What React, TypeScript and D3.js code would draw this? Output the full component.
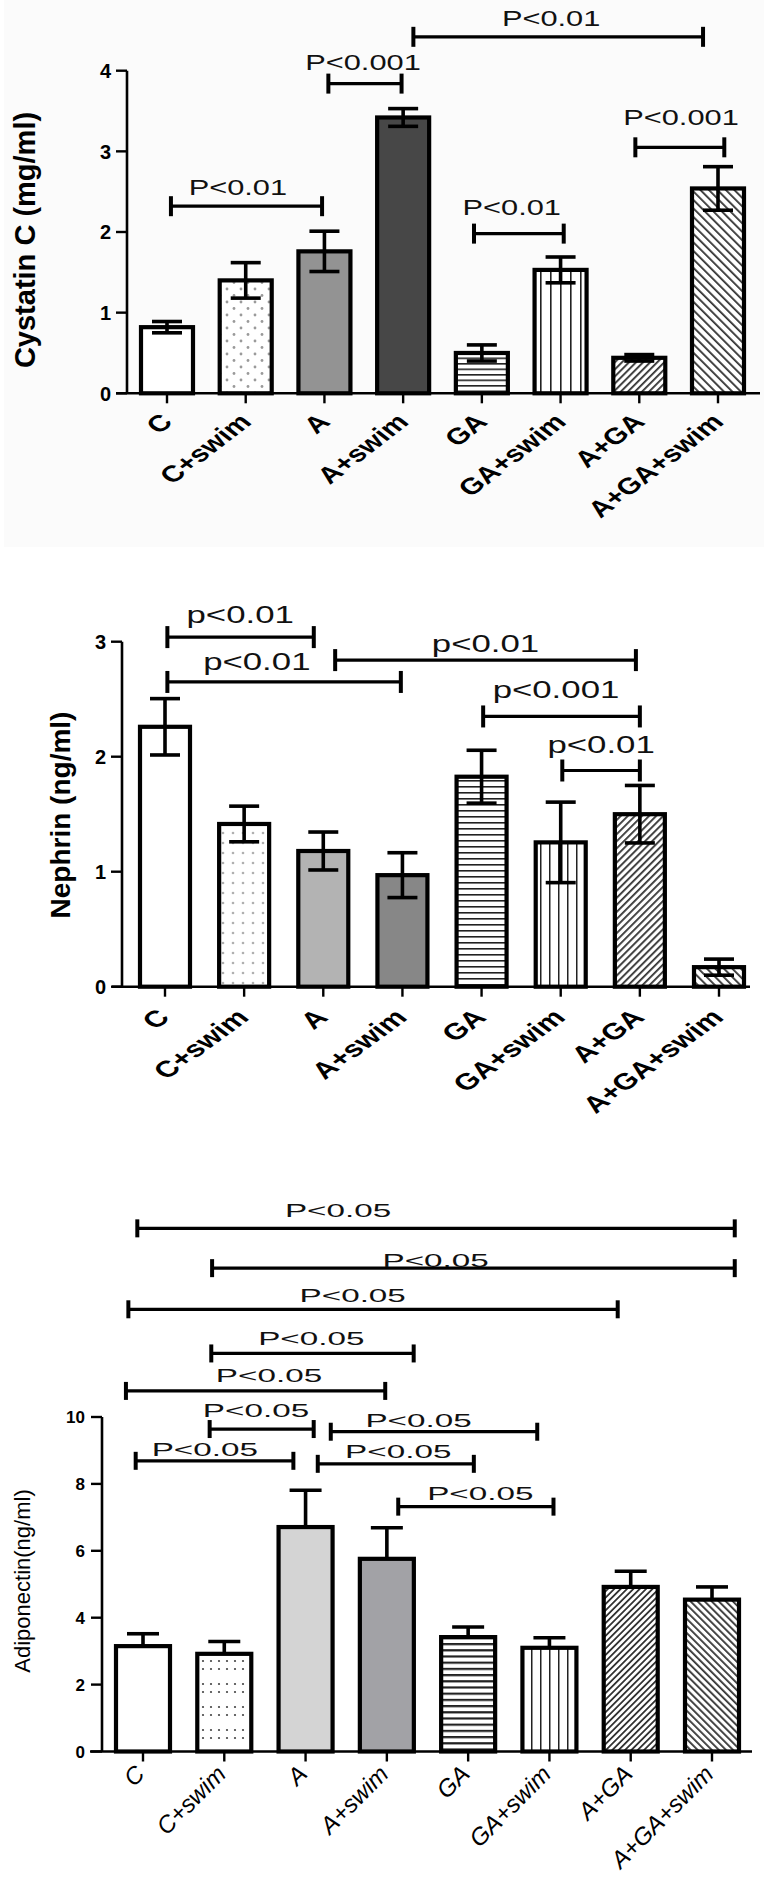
import React from "react";
import * as d3 from "d3";

const categories = ["C", "C+swim", "A", "A+swim", "GA", "GA+swim", "A+GA", "A+GA+swim"];

// Panel 1: Cystatin C (mg/ml)
const cystatinMeans = [0.82, 1.4, 1.76, 3.42, 0.5, 1.53, 0.44, 2.54];
const cystatinErrors = [0.07, 0.22, 0.25, 0.11, 0.1, 0.16, 0.04, 0.27];
const cystatinTicks = [0, 1, 2, 3, 4];
const cystatinBrackets = [
  { from: 0.05, to: 1.97, y: 2.32, lx: 0.9, ly: 2.46, label: "P<0.01" },
  { from: 2.05, to: 2.98, y: 3.84, lx: 2.49, ly: 4.01, label: "P<0.001" },
  { from: 3.13, to: 6.81, y: 4.42, lx: 4.88, ly: 4.55, label: "P<0.01" },
  { from: 3.9, to: 5.04, y: 1.98, lx: 4.38, ly: 2.21, label: "P<0.01" },
  { from: 5.95, to: 7.08, y: 3.05, lx: 6.53, ly: 3.33, label: "P<0.001" },
];

// Panel 2: Nephrin (ng/ml)
const nephrinMeans = [2.26, 1.415, 1.18, 0.97, 1.826, 1.255, 1.5, 0.17];
const nephrinErrors = [0.245, 0.155, 0.165, 0.195, 0.23, 0.35, 0.25, 0.07];
const nephrinTicks = [0, 1, 2, 3];
const nephrinBrackets = [
  { from: 0.03, to: 1.88, y: 3.04, lx: 0.95, ly: 3.16, label: "p<0.01" },
  { from: 0.03, to: 2.98, y: 2.65, lx: 1.16, ly: 2.75, label: "p<0.01" },
  { from: 2.15, to: 5.95, y: 2.84, lx: 4.05, ly: 2.91, label: "p<0.01" },
  { from: 4.02, to: 6.0, y: 2.35, lx: 4.94, ly: 2.51, label: "p<0.001" },
  { from: 5.02, to: 6.0, y: 1.88, lx: 5.51, ly: 2.03, label: "p<0.01" },
];

// Panel 3: Adiponectin (ng/ml)
const adipoMeans = [3.15, 2.92, 6.71, 5.76, 3.42, 3.1, 4.92, 4.54];
const adipoErrors = [0.37, 0.37, 1.1, 0.93, 0.3, 0.3, 0.47, 0.38];
const adipoTicks = [0, 2, 4, 6, 8, 10];
const adipoBrackets = [
  { from: -0.07, to: 7.28, y: 15.64, lx: 2.4, ly: 15.99, label: "P<0.05" },
  { from: 0.85, to: 7.28, y: 14.45, lx: 3.6, ly: 14.49, label: "P<0.05" },
  { from: -0.18, to: 5.84, y: 13.22, lx: 2.58, ly: 13.45, label: "P<0.05" },
  { from: 0.84, to: 3.33, y: 11.9, lx: 2.07, ly: 12.15, label: "P<0.05" },
  { from: -0.21, to: 2.98, y: 10.78, lx: 1.55, ly: 11.06, label: "P<0.05" },
  { from: 0.82, to: 2.1, y: 9.64, lx: 1.39, ly: 10.01, label: "P<0.05" },
  { from: 2.31, to: 4.85, y: 9.56, lx: 3.39, ly: 9.71, label: "P<0.05" },
  { from: -0.09, to: 1.85, y: 8.69, lx: 0.76, ly: 8.83, label: "P<0.05" },
  { from: 2.15, to: 4.07, y: 8.6, lx: 3.14, ly: 8.77, label: "P<0.05" },
  { from: 3.14, to: 5.05, y: 7.32, lx: 4.15, ly: 7.52, label: "P<0.05" },
];

const FONT = "'Liberation Sans', Arial, Helvetica, sans-serif";

type Bracket = { from: number; to: number; y: number; lx: number; ly: number; label: string };

type PanelProps = {
  means: number[];
  errors: number[];
  ticks: number[];
  domain: [number, number];
  yZero: number;
  yTop: number;
  c0: number;
  c7: number;
  bw: number;
  axisLeft: number;
  axisRight: number;
  yAxisX: number;
  fills: string[];
  brackets: Bracket[];
  errDown: boolean;
  capW: number;
  pFont: number;
  pSx: number;
  bracketH: number;
  tickFont: number;
  tickGap: number;
  xlabFont: number;
  xlabBold: boolean;
  xlabItalic: boolean;
  xlabDx: number;
  xlabDy: number;
  xlabSx: number;
  yLabel: string;
  yLabelX: number;
  yLabelY: number;
  yLabelFont: number;
  yLabelBold: boolean;
};

function Panel(p: PanelProps) {
  const y = d3.scaleLinear().domain(p.domain).range([p.yZero, p.yTop]);
  const x = d3.scalePoint<string>().domain(categories).range([p.c0, p.c7]);
  const xi = d3.scaleLinear().domain([0, categories.length - 1]).range([p.c0, p.c7]);
  return (
    <g>
      {categories.map((c, i) => {
        const cx = x(c) as number;
        return (
          <rect
            key={"b" + i}
            x={cx - p.bw / 2}
            y={y(p.means[i])}
            width={p.bw}
            height={y(0) - y(p.means[i])}
            fill={p.fills[i]}
            stroke="#000"
            strokeWidth={4.2}
          />
        );
      })}
      {categories.map((c, i) => {
        const cx = x(c) as number;
        const top = y(p.means[i] + p.errors[i]);
        const bot = p.errDown ? y(p.means[i] - p.errors[i]) : y(p.means[i]);
        return (
          <g key={"e" + i} stroke="#000" strokeWidth={3.6}>
            <line x1={cx} x2={cx} y1={top} y2={bot} />
            <line x1={cx - p.capW / 2} x2={cx + p.capW / 2} y1={top} y2={top} />
            {p.errDown && <line x1={cx - p.capW / 2} x2={cx + p.capW / 2} y1={bot} y2={bot} />}
          </g>
        );
      })}
      <line x1={p.yAxisX} x2={p.yAxisX} y1={y(p.domain[1])} y2={y(0)} stroke="#000" strokeWidth={2.6} />
      <line x1={p.axisLeft} x2={p.axisRight} y1={y(0)} y2={y(0)} stroke="#000" strokeWidth={2.6} />
      {p.ticks.map((t) => (
        <g key={"t" + t}>
          <line x1={p.yAxisX - 11} x2={p.yAxisX} y1={y(t)} y2={y(t)} stroke="#000" strokeWidth={2.4} />
          <text
            x={p.yAxisX - p.tickGap}
            y={y(t)}
            dy="0.36em"
            textAnchor="end"
            fontFamily={FONT}
            fontWeight="bold"
            fontSize={p.tickFont}
          >
            {t}
          </text>
        </g>
      ))}
      {categories.map((c, i) => {
        const cx = x(c) as number;
        return (
          <g key={"x" + i}>
            <line x1={cx} x2={cx} y1={y(0)} y2={y(0) + 10} stroke="#000" strokeWidth={2.4} />
            <text
              transform={`translate(${cx + p.xlabDx},${y(0) + p.xlabDy}) scale(${p.xlabSx},1) rotate(-45)`}
              textAnchor="end"
              fontFamily={FONT}
              fontWeight={p.xlabBold ? "bold" : "normal"}
              fontStyle={p.xlabItalic ? "italic" : "normal"}
              fontSize={p.xlabFont}
            >
              {c}
            </text>
          </g>
        );
      })}
      <text
        transform={`translate(${p.yLabelX},${p.yLabelY}) rotate(-90)`}
        textAnchor="middle"
        dy="0.35em"
        fontFamily={FONT}
        fontWeight={p.yLabelBold ? "bold" : "normal"}
        fontSize={p.yLabelFont}
      >
        {p.yLabel}
      </text>
      {p.brackets.map((b, i) => {
        const x1 = xi(b.from);
        const x2 = xi(b.to);
        const by = y(b.y);
        return (
          <g key={"s" + i}>
            <g stroke="#000">
              <line x1={x1} x2={x2} y1={by} y2={by} strokeWidth={3.2} />
              <line x1={x1} x2={x1} y1={by - p.bracketH} y2={by + p.bracketH} strokeWidth={4} />
              <line x1={x2} x2={x2} y1={by - p.bracketH} y2={by + p.bracketH} strokeWidth={4} />
            </g>
            <text
              transform={`translate(${xi(b.lx)},${y(b.ly)}) scale(${p.pSx},1)`}
              textAnchor="middle"
              fontFamily={FONT}
              fontSize={p.pFont}
              fill="#111"
            >
              {b.label}
            </text>
          </g>
        );
      })}
    </g>
  );
}

function Patterns() {
  const hl = (id: string, gap: number, w: number) => (
    <pattern id={id} patternUnits="userSpaceOnUse" width={8} height={gap}>
      <rect width={8} height={gap} fill="#fff" />
      <rect y={0} width={8} height={w} fill="#222" />
    </pattern>
  );
  const vl = (id: string, gap: number, w: number) => (
    <pattern id={id} patternUnits="userSpaceOnUse" width={gap} height={8}>
      <rect width={gap} height={8} fill="#fff" />
      <rect x={0} width={w} height={8} fill="#222" />
    </pattern>
  );
  const dg = (id: string, gap: number, w: number, ang: number) => (
    <pattern id={id} patternUnits="userSpaceOnUse" width={gap} height={10} patternTransform={`rotate(${ang})`}>
      <rect width={gap} height={10} fill="#fff" />
      <rect x={0} width={w} height={10} fill="#333" />
    </pattern>
  );
  return (
    <defs>
      <pattern id="dots1" patternUnits="userSpaceOnUse" width={14} height={13}>
        <rect width={14} height={13} fill="#fff" />
        <circle cx={3} cy={3} r={1.4} fill="#9a9a9a" />
        <circle cx={10} cy={9.5} r={1.4} fill="#9a9a9a" />
      </pattern>
      <pattern id="dots2" patternUnits="userSpaceOnUse" width={10} height={10}>
        <rect width={10} height={10} fill="#fff" />
        <circle cx={3} cy={3} r={1.3} fill="#b0b0b0" />
      </pattern>
      <pattern id="dots3" patternUnits="userSpaceOnUse" width={8} height={23}>
        <rect width={8} height={23} fill="#fff" />
        <circle cx={3} cy={5} r={1.1} fill="#444" />
        <circle cx={3} cy={13} r={1.1} fill="#444" />
      </pattern>
      {hl("hl1", 5.5, 1.6)}
      {vl("vl1", 10, 1.6)}
      {dg("dr1", 5, 1.8, 45)}
      {dg("dl1", 6, 1.8, -45)}
      {hl("hl2", 6, 1.6)}
      {vl("vl2", 9, 1.5)}
      {dg("dr2", 5, 1.8, 45)}
      {dg("dl2", 6, 1.8, -45)}
      {hl("hl3", 6.2, 2.2)}
      {vl("vl3", 9, 1.5)}
      {dg("dr3", 4.5, 1.8, 45)}
      {dg("dl3", 5, 1.8, -45)}
    </defs>
  );
}

export default function App() {
  return (
    <svg
      width={764}
      height={1892}
      viewBox="0 0 764 1892"
      style={{ position: "absolute", left: 0, top: 0, background: "#fff" }}
    >
      <Patterns />
      <rect x={0} y={0} width={764} height={1892} fill="#fff" />
      <rect x={4} y={0} width={760} height={547} fill="#fbfbfb" />
      <Panel
        means={cystatinMeans}
        errors={cystatinErrors}
        ticks={cystatinTicks}
        domain={[0, 4]}
        yZero={393.3}
        yTop={70.7}
        c0={167}
        c7={718}
        bw={52}
        axisLeft={116}
        axisRight={760}
        yAxisX={127}
        fills={["#fff", "url(#dots1)", "#939393", "#474747", "url(#hl1)", "url(#vl1)", "url(#dr1)", "url(#dl1)"]}
        brackets={cystatinBrackets}
        errDown={true}
        capW={30}
        pFont={22}
        pSx={1.4}
        bracketH={10}
        tickFont={20}
        tickGap={16}
        xlabFont={23}
        xlabBold={true}
        xlabItalic={false}
        xlabDx={7}
        xlabDy={30}
        xlabSx={1.3}
        yLabel="Cystatin C (mg/ml)"
        yLabelX={25}
        yLabelY={240}
        yLabelFont={29}
        yLabelBold={true}
      />
      <Panel
        means={nephrinMeans}
        errors={nephrinErrors}
        ticks={nephrinTicks}
        domain={[0, 3]}
        yZero={986.7}
        yTop={641.7}
        c0={165}
        c7={719}
        bw={50}
        axisLeft={112}
        axisRight={750}
        yAxisX={122}
        fills={["#fff", "url(#dots2)", "#b3b3b3", "#878787", "url(#hl2)", "url(#vl2)", "url(#dr2)", "url(#dl2)"]}
        brackets={nephrinBrackets}
        errDown={true}
        capW={30}
        pFont={24}
        pSx={1.45}
        bracketH={11}
        tickFont={20}
        tickGap={16}
        xlabFont={23}
        xlabBold={true}
        xlabItalic={false}
        xlabDx={6}
        xlabDy={32}
        xlabSx={1.35}
        yLabel="Nephrin (ng/ml)"
        yLabelX={60}
        yLabelY={815}
        yLabelFont={28}
        yLabelBold={true}
      />
      <Panel
        means={adipoMeans}
        errors={adipoErrors}
        ticks={adipoTicks}
        domain={[0, 10]}
        yZero={1751.5}
        yTop={1417}
        c0={143}
        c7={712}
        bw={54}
        axisLeft={90}
        axisRight={752}
        yAxisX={102}
        fills={["#fff", "url(#dots3)", "#d4d4d4", "#a2a2a6", "url(#hl3)", "url(#vl3)", "url(#dr3)", "url(#dl3)"]}
        brackets={adipoBrackets}
        errDown={false}
        capW={32}
        pFont={19}
        pSx={1.75}
        bracketH={9}
        tickFont={17}
        tickGap={17}
        xlabFont={24}
        xlabBold={false}
        xlabItalic={true}
        xlabDx={3}
        xlabDy={24}
        xlabSx={1}
        yLabel="Adiponectin(ng/ml)"
        yLabelX={22}
        yLabelY={1581}
        yLabelFont={22}
        yLabelBold={false}
      />
    </svg>
  );
}
